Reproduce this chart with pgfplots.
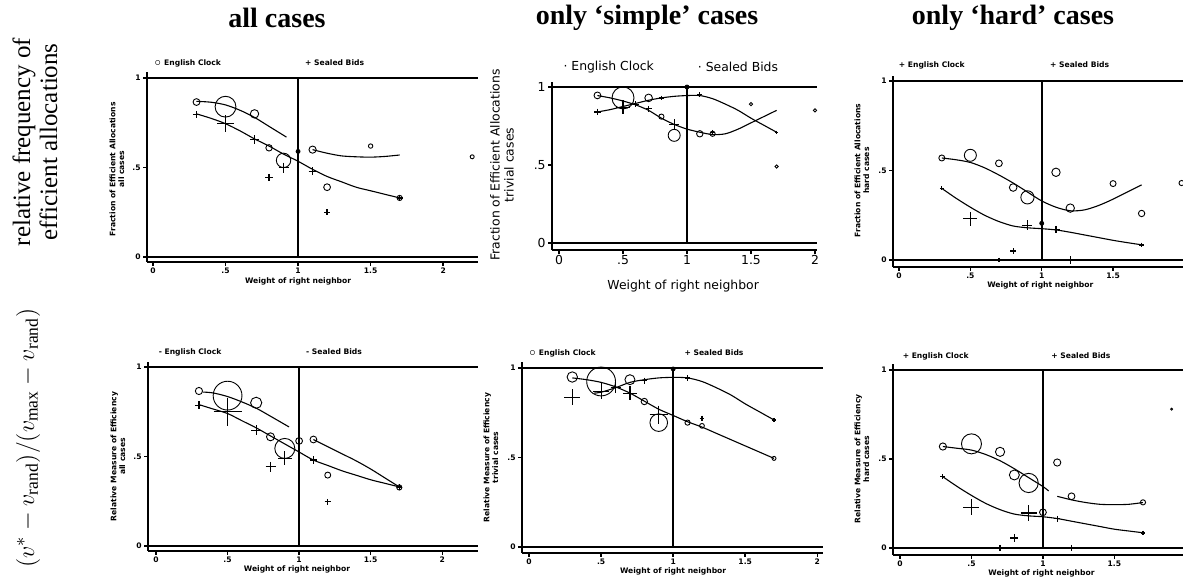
\documentclass[border=0pt]{standalone}
\usepackage{fontspec}
\setmainfont{Liberation Serif}
\newfontfamily\sta{DejaVu Sans}
\usepackage{pgfplots}
\pgfplotsset{compat=1.18}

% tiny bold Stata-like text and the larger one of the middle top panel
\newcommand{\tfont}{\sta\bfseries\fontsize{3.8}{4.4}\selectfont}
\newcommand{\bfont}{\sta\fontsize{6.2}{7}\selectfont}

\pgfplotsset{
  panel/.style={
    scale only axis, anchor=south west,
    axis x line*=bottom, axis y line*=left,
    axis line style={-, line width=0.9pt},
    xtick={0,0.5,1,1.5,2}, xticklabels={0,.5,1,1.5,2},
    ytick={0,0.5,1}, yticklabels={0,.5,1},
    tick align=outside, major tick length=2pt,
    tick style={line width=0.7pt, black},
    xticklabel style={inner sep=0.6pt},
    yticklabel style={inner sep=1pt},
    clip=false,
  },
  ecpts/.style={only marks, scatter, mark=o, line width=0.45pt,
    scatter/use mapped color={draw=black},
    visualization depends on={\thisrow{s}\as\msize},
    scatter/@pre marker code/.append style={/tikz/mark size=\msize pt}},
  sbpts/.style={ecpts, mark=+, line width=0.6pt},
  fitline/.style={black, line width=0.55pt, smooth, no marks},
  refline/.style={black, line width=0.9pt, no marks},
  dotpt/.style={only marks, mark=*, mark size=1pt, black},
}

\begin{document}
\begin{tikzpicture}
\useasboundingbox (0,0) rectangle (591.5pt,288.5pt);

% column titles and row labels
\node[font=\bfseries\fontsize{14}{16}\selectfont] at (138.5pt,279.5pt) {all cases};
\node[font=\bfseries\fontsize{14}{16}\selectfont] at (323.5pt,279.5pt) {only ‘simple’ cases};
\node[font=\bfseries\fontsize{14}{16}\selectfont] at (506.5pt,279.5pt) {only ‘hard’ cases};
\node[rotate=90, align=center, font=\fontsize{12.5}{13.5}\selectfont] at (17.5pt,217.5pt) {relative frequency of\\efficient allocations};
\node[rotate=90, font=\fontsize{12.5}{14}\selectfont] at (14pt,69.5pt) {$(v^{*}-v_{\mathrm{rand}})/(v_{\max}-v_{\mathrm{rand}})$};

% ---------- top left: all cases ----------
\begin{axis}[panel, at={(73.5pt,157.5pt)}, width=165.5pt, height=95pt,
  xmin=-0.041, xmax=2.24, ymin=-0.028, ymax=1.034,
  ticklabel style={font=\tfont}]
  \addplot[refline] coordinates {(-0.041,1) (2.24,1)};
  \addplot[refline] coordinates {(-0.041,0) (2.24,0)};
  \addplot[refline] coordinates {(1,0) (1,1)};
  \addplot[ecpts] table {
x y s
0.3 0.866 1.7
0.5 0.84 5.2
0.7 0.80 2.1
0.8 0.61 1.6
0.9 0.54 3.6
1.1 0.60 1.8
1.2 0.39 1.7
1.5 0.62 1.1
1.7 0.33 1.3
2.2 0.56 1.0
};
  \addplot[sbpts] table {
x y s
0.3 0.795 1.8
0.5 0.745 4.2
0.7 0.655 2.2
0.8 0.445 1.8
0.9 0.50 2.5
1.1 0.48 2.0
1.2 0.25 1.5
1.7 0.33 1.5
};
  \addplot[dotpt] coordinates {(1.0,0.59)};
  \addplot[fitline] coordinates {(0.3,0.87)(0.4,0.865)(0.5,0.85)(0.6,0.82)(0.7,0.78)(0.8,0.73)(0.92,0.67)};
  \addplot[fitline] coordinates {(1.1,0.60)(1.2,0.58)(1.3,0.565)(1.4,0.56)(1.5,0.558)(1.6,0.562)(1.7,0.57)};
  \addplot[fitline] coordinates {(0.3,0.80)(0.4,0.775)(0.5,0.745)(0.6,0.705)(0.7,0.66)(0.8,0.62)(0.9,0.575)(1.0,0.535)(1.1,0.49)(1.2,0.45)(1.3,0.42)(1.4,0.39)(1.5,0.37)(1.6,0.35)(1.7,0.33)};
  \node[anchor=west, font=\tfont] at ([yshift=4.5pt]axis cs:-0.04,1.034) {$\circ$ English Clock};
  \node[anchor=west, font=\tfont] at ([yshift=4.5pt]axis cs:1,1.034) {+ Sealed Bids};
  \node[font=\tfont] at ([yshift=-9.5pt]axis cs:1,-0.028) {Weight of right neighbor};
  \node[rotate=90, align=center, font=\tfont] at ([xshift=-15pt]axis cs:-0.041,0.49) {Fraction of Efficient Allocations\\all cases};
\end{axis}

% ---------- top middle: trivial cases ----------
\begin{axis}[panel, at={(276pt,163.5pt)}, width=132.5pt, height=84pt,
  xmin=-0.055, xmax=2.016, ymin=-0.045, ymax=1.032,
  ticklabel style={font=\bfont}]
  \addplot[refline] coordinates {(-0.055,1) (2.016,1)};
  \addplot[refline] coordinates {(-0.055,0) (2.016,0)};
  \addplot[refline] coordinates {(1,0) (1,1)};
  \addplot[ecpts] table {
x y s
0.3 0.946 1.7
0.5 0.93 5.5
0.7 0.93 1.9
0.8 0.81 1.3
0.9 0.69 3.0
1.1 0.70 1.6
1.2 0.70 1.3
1.5 0.89 0.8
1.7 0.49 0.8
2.0 0.85 0.8
};
  \addplot[sbpts] table {
x y s
0.3 0.84 1.6
0.5 0.87 3.5
0.6 0.89 1.5
0.7 0.86 1.5
0.8 0.93 1.2
0.9 0.76 2.5
1.1 0.95 1.2
1.2 0.71 1.2
1.7 0.71 0.8
};
  \addplot[dotpt] coordinates {(1.0,1.0)};
  \addplot[fitline] coordinates {(0.3,0.84)(0.4,0.855)(0.5,0.875)(0.6,0.895)(0.7,0.915)(0.8,0.93)(0.9,0.94)(1.0,0.945)(1.1,0.945)(1.2,0.925)(1.3,0.89)(1.4,0.85)(1.5,0.80)(1.6,0.755)(1.7,0.71)};
  \addplot[fitline] coordinates {(0.3,0.945)(0.4,0.93)(0.5,0.91)(0.6,0.885)(0.7,0.85)(0.8,0.80)(0.9,0.76)(1.0,0.73)(1.1,0.71)(1.2,0.695)(1.3,0.70)(1.4,0.73)(1.5,0.77)(1.6,0.81)(1.7,0.85)};
  \node[anchor=west, font=\bfont] at ([yshift=7.5pt]axis cs:-0.02,1.032) {· English Clock};
  \node[anchor=west, font=\bfont] at ([yshift=7.5pt]axis cs:1.03,1.032) {· Sealed Bids};
  \node[font=\bfont] at ([yshift=-18pt]axis cs:0.97,-0.045) {Weight of right neighbor};
  \node[rotate=90, align=center, font=\bfont] at ([xshift=-25pt]axis cs:-0.055,0.5) {Fraction of Efficient Allocations\\trivial cases};
\end{axis}

% ---------- top right: hard cases ----------
\begin{axis}[panel, at={(446.5pt,155pt)}, width=145pt, height=95.5pt,
  xmin=-0.042, xmax=1.99, ymin=-0.039, ymax=1.028,
  ticklabel style={font=\tfont}]
  \addplot[refline] coordinates {(-0.042,1) (1.99,1)};
  \addplot[refline] coordinates {(-0.042,0) (1.99,0)};
  \addplot[refline] coordinates {(1,0) (1,1)};
  \addplot[ecpts] table {
x y s
0.3 0.57 1.5
0.5 0.585 3.0
0.7 0.54 1.7
0.8 0.405 1.9
0.9 0.35 3.3
1.1 0.49 2.1
1.2 0.29 2.1
1.5 0.427 1.5
1.7 0.26 1.6
1.98 0.43 1.3
};
  \addplot[sbpts] table {
x y s
0.3 0.40 1.0
0.5 0.23 3.5
0.7 0.0 1.2
0.8 0.05 1.5
0.9 0.195 2.5
1.1 0.17 1.8
1.2 0.0 2.0
1.7 0.084 1.2
};
  \addplot[dotpt] coordinates {(1.0,0.205)};
  \addplot[fitline] coordinates {(0.3,0.57)(0.4,0.56)(0.5,0.545)(0.6,0.515)(0.7,0.475)(0.8,0.43)(0.9,0.38)(1.0,0.33)(1.1,0.295)(1.2,0.275)(1.3,0.28)(1.4,0.305)(1.5,0.34)(1.6,0.38)(1.7,0.42)};
  \addplot[fitline] coordinates {(0.3,0.40)(0.4,0.345)(0.5,0.295)(0.6,0.25)(0.7,0.215)(0.8,0.19)(0.9,0.18)(1.0,0.175)(1.1,0.168)(1.2,0.155)(1.3,0.14)(1.4,0.125)(1.5,0.11)(1.6,0.097)(1.7,0.085)};
  \node[anchor=west, font=\tfont] at ([yshift=5.5pt]axis cs:-0.05,1.028) {+ English Clock};
  \node[anchor=west, font=\tfont] at ([yshift=5.5pt]axis cs:1.01,1.028) {+ Sealed Bids};
  \node[font=\tfont] at ([yshift=-9pt]axis cs:0.99,-0.039) {Weight of right neighbor};
  \node[rotate=90, align=center, font=\tfont] at ([xshift=-15.5pt]axis cs:-0.042,0.5) {Fraction of Efficient Allocations\\hard cases};
\end{axis}

% ---------- bottom left: all cases ----------
\begin{axis}[panel, at={(74pt,13pt)}, width=165pt, height=94.5pt,
  xmin=-0.056, xmax=2.25, ymin=-0.028, ymax=1.028,
  ticklabel style={font=\tfont}]
  \addplot[refline] coordinates {(-0.056,1) (2.25,1)};
  \addplot[refline] coordinates {(-0.056,0) (2.25,0)};
  \addplot[refline] coordinates {(1,0) (1,1)};
  \addplot[ecpts] table {
x y s
0.3 0.866 1.8
0.5 0.84 7.2
0.7 0.80 2.8
0.8 0.61 2.0
0.9 0.545 5.0
1.0 0.587 1.7
1.1 0.595 1.7
1.2 0.396 1.5
1.7 0.327 1.3
};
  \addplot[sbpts] table {
x y s
0.3 0.786 2.0
0.5 0.75 7.0
0.7 0.647 2.5
0.8 0.442 2.5
0.9 0.49 3.5
1.1 0.48 1.8
1.2 0.247 1.5
1.7 0.33 1.3
};
  \addplot[fitline] coordinates {(0.33,0.86)(0.4,0.855)(0.5,0.835)(0.6,0.805)(0.7,0.77)(0.8,0.725)(0.93,0.665)};
  \addplot[fitline] coordinates {(1.1,0.595)(1.2,0.555)(1.3,0.515)(1.4,0.475)(1.5,0.43)(1.6,0.38)(1.7,0.33)};
  \addplot[fitline] coordinates {(0.3,0.79)(0.4,0.765)(0.5,0.74)(0.6,0.70)(0.7,0.66)(0.8,0.615)(0.9,0.57)(1.0,0.525)(1.1,0.48)(1.2,0.45)(1.3,0.42)(1.4,0.395)(1.5,0.37)(1.6,0.35)(1.7,0.33)};
  \node[anchor=west, font=\tfont] at ([yshift=5pt]axis cs:-0.03,1.028) {- English Clock};
  \node[anchor=west, font=\tfont] at ([yshift=5pt]axis cs:1.0,1.028) {- Sealed Bids};
  \node[font=\tfont] at ([yshift=-9pt]axis cs:0.985,-0.028) {Weight of right neighbor};
  \node[rotate=90, align=center, font=\tfont] at ([xshift=-15pt]axis cs:-0.056,0.5) {Relative Measure of Efficiency\\all cases};
\end{axis}

% ---------- bottom middle: trivial cases ----------
\begin{axis}[panel, at={(261pt,12pt)}, width=150.5pt, height=95.5pt,
  xmin=-0.049, xmax=2.04, ymin=-0.034, ymax=1.034,
  ticklabel style={font=\tfont}]
  \addplot[refline] coordinates {(-0.049,1) (2.04,1)};
  \addplot[refline] coordinates {(-0.049,0) (2.04,0)};
  \addplot[refline] coordinates {(1,0) (1,1)};
  \addplot[ecpts] table {
x y s
0.3 0.95 2.6
0.5 0.925 7.2
0.7 0.935 2.5
0.8 0.813 1.6
0.9 0.695 4.4
1.1 0.695 1.3
1.2 0.677 1.2
1.7 0.495 1.0
};
  \addplot[sbpts] table {
x y s
0.3 0.837 4.0
0.5 0.87 4.0
0.6 0.89 2.5
0.7 0.86 3.5
0.8 0.93 1.5
0.9 0.74 4.5
1.1 0.945 1.3
1.2 0.72 1.2
1.7 0.71 1.0
};
  \addplot[dotpt] coordinates {(1.0,0.995)};
  \addplot[fitline] coordinates {(0.45,0.86)(0.5,0.865)(0.6,0.89)(0.7,0.92)(0.8,0.935)(0.9,0.945)(1.0,0.948)(1.1,0.945)(1.2,0.925)(1.3,0.89)(1.4,0.85)(1.5,0.80)(1.6,0.755)(1.7,0.71)};
  \addplot[fitline] coordinates {(0.3,0.945)(0.4,0.935)(0.5,0.92)(0.6,0.895)(0.7,0.86)(0.8,0.815)(0.9,0.77)(1.0,0.735)(1.1,0.70)(1.2,0.67)(1.3,0.635)(1.4,0.60)(1.5,0.565)(1.6,0.53)(1.7,0.495)};
  \node[anchor=west, font=\tfont] at ([yshift=4.5pt]axis cs:-0.05,1.034) {$\circ$ English Clock};
  \node[anchor=west, font=\tfont] at ([yshift=4.5pt]axis cs:1.03,1.034) {+ Sealed Bids};
  \node[font=\tfont] at ([yshift=-9pt]axis cs:1.0,-0.034) {Weight of right neighbor};
  \node[rotate=90, align=center, font=\tfont] at ([xshift=-15.5pt]axis cs:-0.049,0.5) {Relative Measure of Efficiency\\trivial cases};
\end{axis}

% ---------- bottom right: hard cases ----------
\begin{axis}[panel, at={(446.5pt,11pt)}, width=145pt, height=95.5pt,
  xmin=-0.049, xmax=1.98, ymin=-0.04, ymax=1.034,
  ticklabel style={font=\tfont}]
  \addplot[refline] coordinates {(-0.049,1) (1.98,1)};
  \addplot[refline] coordinates {(-0.049,0) (1.98,0)};
  \addplot[refline] coordinates {(1,0) (1,1)};
  \addplot[ecpts] table {
x y s
0.3 0.57 1.8
0.5 0.585 5.0
0.7 0.54 2.3
0.8 0.41 2.5
0.9 0.365 4.8
1.0 0.20 1.7
1.1 0.48 1.8
1.2 0.29 1.7
1.7 0.256 1.3
1.9 0.78 0.5
};
  \addplot[sbpts] table {
x y s
0.3 0.40 1.3
0.5 0.228 4.0
0.7 0.0 1.5
0.8 0.056 2.0
0.9 0.196 4.0
1.1 0.163 1.5
1.2 0.0 1.5
1.7 0.084 1.2
};
  \addplot[fitline] coordinates {(0.3,0.57)(0.4,0.56)(0.5,0.55)(0.6,0.525)(0.7,0.49)(0.8,0.445)(0.9,0.395)(1.0,0.345)(1.04,0.32)};
  \addplot[fitline] coordinates {(1.1,0.29)(1.2,0.27)(1.3,0.255)(1.4,0.245)(1.5,0.243)(1.6,0.245)(1.7,0.255)};
  \addplot[fitline] coordinates {(0.3,0.40)(0.4,0.345)(0.5,0.295)(0.6,0.25)(0.7,0.215)(0.8,0.19)(0.9,0.18)(1.0,0.175)(1.1,0.165)(1.2,0.15)(1.3,0.135)(1.4,0.12)(1.5,0.105)(1.6,0.095)(1.7,0.085)};
  \node[anchor=west, font=\tfont] at ([yshift=4pt]axis cs:-0.03,1.034) {+ English Clock};
  \node[anchor=west, font=\tfont] at ([yshift=4pt]axis cs:1.01,1.034) {+ Sealed Bids};
  \node[font=\tfont] at ([yshift=-9pt]axis cs:0.99,-0.04) {Weight of right neighbor};
  \node[rotate=90, align=center, font=\tfont] at ([xshift=-15.5pt]axis cs:-0.049,0.5) {Relative Measure of Efficiency\\hard cases};
\end{axis}
\end{tikzpicture}
\end{document}
